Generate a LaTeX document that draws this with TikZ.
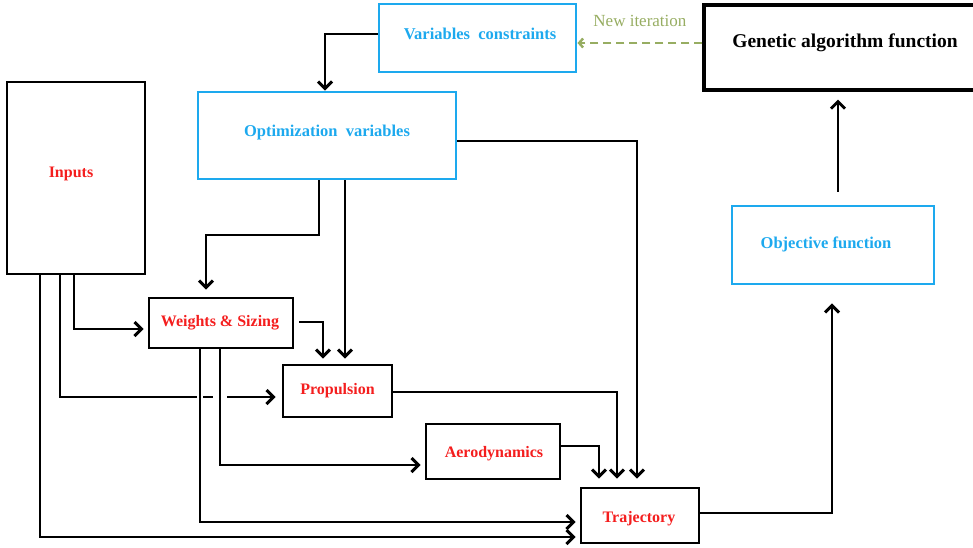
\documentclass[tikz,border=0pt]{standalone}
\usepackage{fontspec}
\setmainfont{Liberation Serif}
\usetikzlibrary{arrows.meta,calc}
\definecolor{skyb}{HTML}{1DA9EE}
\definecolor{redt}{HTML}{F41E1E}
\definecolor{oliv}{HTML}{97AD62}
\begin{document}
\begin{tikzpicture}[x=1pt,y=-1pt,
  ln/.style={line width=2.9pt},
  arr/.style={ln, -{Straight Barb[length=7pt,width=14pt]}},
  dasharr/.style={draw=oliv, line width=2.4pt, dash pattern=on 8pt off 5pt, -{Straight Barb[length=4pt,width=9pt]}},
  bbox/.style={draw=skyb, line width=2.9pt, inner sep=0pt},
  kbox/.style={draw=black, line width=2.9pt, inner sep=0pt},
  redl/.style={text=redt, font=\fontsize{16}{19}\selectfont\bfseries},
  bluel/.style={text=skyb, font=\fontsize{16.5}{20}\selectfont\bfseries},
  gatext/.style={text=black, font=\fontsize{19.5}{23}\selectfont\bfseries},
  itlabel/.style={text=oliv, font=\fontsize{17}{20}\selectfont, inner sep=0pt}
]
\useasboundingbox (0,0) rectangle (973,547);
\clip (0,0) rectangle (973,547);

% boxes
\node[bbox, minimum width=197pt, minimum height=68pt,
  label={[bluel,shift={(2.5pt,4.5pt)}]center:Variables\hspace{0.5em}constraints}] (vc) at (477.5,38) {};
\node[kbox, line width=3.2pt, minimum width=286pt, minimum height=85pt,
  label={[gatext,shift={(-2pt,5pt)}]center:Genetic algorithm function}] (ga) at (847,47.5) {};
\node[bbox, minimum width=258pt, minimum height=87pt,
  label={[bluel,shift={(0pt,2.5pt)}]center:Optimization\hspace{0.5em}variables}] (opt) at (327,135.5) {};
\node[kbox, minimum width=138pt, minimum height=192pt,
  label={[redl,shift={(-5pt,4pt)}]center:Inputs}] (in) at (76,178) {};
\node[bbox, minimum width=202pt, minimum height=78pt,
  label={[bluel,shift={(-7pt,1pt)}]center:Objective function}] (obj) at (833,245) {};
\node[kbox, minimum width=144pt, minimum height=50pt,
  label={[redl,shift={(-1pt,0pt)}]center:Weights \& Sizing}] (ws) at (221,323) {};
\node[kbox, minimum width=109pt, minimum height=52pt,
  label={[redl]center:Propulsion}] (pr) at (337.5,391) {};
\node[kbox, minimum width=134pt, minimum height=55pt,
  label={[redl,shift={(1pt,-2.5pt)}]center:Aerodynamics}] (ae) at (493,451.5) {};
\node[kbox, minimum width=118pt, minimum height=55pt,
  label={[redl,shift={(-1pt,-3.5pt)}]center:Trajectory}] (tr) at (640,515.5) {};

% track coordinates
\coordinate (tx40) at (40,0);
\coordinate (tx60) at (60,0);
\coordinate (tx74) at (74,0);
\coordinate (tx200) at (200,0);
\coordinate (tx206) at (206,0);
\coordinate (tx220) at (220,0);
\coordinate (tx319) at (319,0);
\coordinate (tx323) at (323,0);
\coordinate (tx325) at (325,0);
\coordinate (tx345) at (345,0);
\coordinate (tx599) at (599,0);
\coordinate (tx617) at (617,0);
\coordinate (tx637) at (637,0);
\coordinate (tx832) at (832,0);
\coordinate (tx838) at (838,0);
\coordinate (ty34) at (0,34);
\coordinate (ty43) at (0,43);
\coordinate (ty141) at (0,141);
\coordinate (ty235) at (0,235);
\coordinate (ty322) at (0,322);
\coordinate (ty329) at (0,329);
\coordinate (ty392) at (0,392);
\coordinate (ty446) at (0,446);
\coordinate (ty465) at (0,465);
\coordinate (ty513) at (0,513);
\coordinate (ty522) at (0,522);
\coordinate (ty537) at (0,537);
\coordinate (h1) at (197,397);
\coordinate (h2) at (203,397);
\coordinate (h3) at (213,397);
\coordinate (h4) at (227,397);

% connectors
\draw[arr] (vc.west |- ty34) -| (opt.north -| tx325);
\draw[arr, shorten >=7pt] (opt.south -| tx319) |- (tx206 |- ty235) -- (ws.north -| tx206);
\draw[arr, shorten >=5pt] (opt.south -| tx345) -- (pr.north -| tx345);
\draw[arr, shorten >=8pt] (opt.east |- ty141) -| (tr.north -| tx637);
\draw[arr, shorten <=5pt, shorten >=5pt] (ws.east |- ty322) -| (pr.north -| tx323);
\draw[arr, shorten >=4pt] (in.south -| tx74) |- (ws.west |- ty329);
\draw[ln] (in.south -| tx60) |- (h1);
\draw[ln] (h2) -- (h3);
\draw[arr, shorten >=6pt] (h4) -- (pr.west |- h4);
\draw[arr, shorten >=4pt] (in.south -| tx40) |- (tr.west |- ty537);
\draw[arr, shorten >=4pt] (ws.south -| tx200) |- (tr.west |- ty522);
\draw[arr, shorten >=4pt] (ws.south -| tx220) |- (ae.west |- ty465);
\draw[arr, shorten >=8pt] (pr.east |- ty392) -| (tr.north -| tx617);
\draw[arr, shorten >=8pt] (ae.east |- ty446) -| (tr.north -| tx599);
\draw[arr, shorten >=18pt] (tr.east |- ty513) -| (obj.south -| tx832);
\draw[arr, shorten <=13pt, shorten >=8pt] (obj.north -| tx838) -- (ga.south -| tx838);
\draw[dasharr] (ga.west |- ty43) -- (vc.east |- ty43)
  node[pos=0.5, above=15pt, itlabel] (ni) {New iteration};
\end{tikzpicture}
\end{document}
